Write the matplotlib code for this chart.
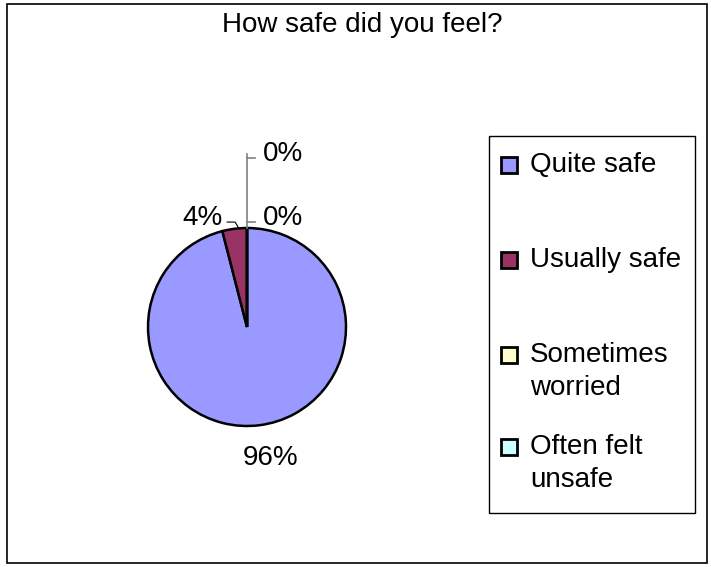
import matplotlib.pyplot as plt
from matplotlib.patches import Rectangle

plt.rcParams['font.family'] = ['Liberation Sans', 'DejaVu Sans']

categories = ['Quite safe', 'Usually safe', 'Sometimes\nworried', 'Often felt\nunsafe']
values = [96, 4, 0, 0]
colors = ['#9999FF', '#993366', '#FFFFCC', '#CCFFFF']
title = 'How safe did you feel?'

W, H = 711, 567
fig = plt.figure(figsize=(W / 100, H / 100), dpi=100)

# full-figure overlay in pixel coords for frame + legend
bg = fig.add_axes([0, 0, 1, 1])
bg.set_xlim(0, W)
bg.set_ylim(H, 0)
bg.axis('off')
bg.add_patch(Rectangle((7, 4), 700, 559, fill=False, ec='black', lw=1.2))
bg.text(362, 32, title, ha='center', va='baseline', fontsize=20)

# pie: centred at (247, 327), radius 99 px
cx, cy, r = 247, 327, 99
ax = fig.add_axes([(cx - r) / W, (H - cy - r) / H, 2 * r / W, 2 * r / H])
ax.pie(values, colors=colors, startangle=90, counterclock=False,
       wedgeprops=dict(edgecolor='black', linewidth=1.8))
ax.set_xlim(-1, 1)
ax.set_ylim(-1, 1)
ax.set_aspect('auto')

pct = ['%d%%' % v for v in values]
fs = 20
# label positions (pie units, centre at 0,0)
ax.text(0.24, -1.32, pct[0], ha='center', va='center', fontsize=fs)
ax.text(-0.45, 1.10, pct[1], ha='center', va='center', fontsize=fs)
ax.text(0.36, 1.10, pct[2], ha='center', va='center', fontsize=fs)
ax.text(0.36, 1.75, pct[3], ha='center', va='center', fontsize=fs)

# leader lines
lk = dict(color='gray', lw=1.2, clip_on=False)
ax.plot([0, 0], [1.0, 1.75], **lk)
ax.plot([0, 0.08], [1.71, 1.71], **lk)
ax.plot([0, 0.08], [1.06, 1.06], **lk)
ax.plot([-0.2, -0.12, -0.09], [1.06, 1.06, 1.01], color='black', lw=0.8, clip_on=False)

# legend
bg.add_patch(Rectangle((489, 136), 206, 377, fill=False, ec='black', lw=1))
rows = [165, 260, 355, 447]
for lab, col, y in zip(categories, colors, rows):
    bg.add_patch(Rectangle((501, y - 8), 16, 16, fc=col, ec='black', lw=2))
    for k, line in enumerate(lab.split('\n')):
        bg.text(530, y + k * 33, line, ha='left', va='center', fontsize=fs)

fig.savefig('out.png', dpi=100)
